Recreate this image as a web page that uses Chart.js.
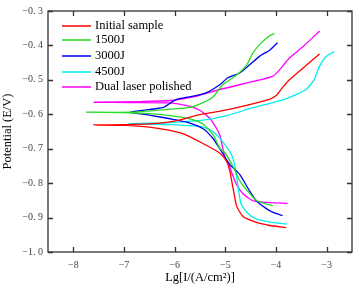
<!DOCTYPE html>
<html>
<head>
<meta charset="utf-8">
<script src="https://cdn.jsdelivr.net/npm/chart.js@4.4.0/dist/chart.umd.min.js"></script>
<style>
  html, body { margin: 0; padding: 0; background: #fff; }
</style>
</head>
<body>
<canvas id="mycanvas" width="355" height="288"></canvas>
<script>
// series names (legend order)
var seriesNames = ['Initial sample', '1500J', '3000J', '4500J', 'Dual laser polished'];

// tick labels
var xTicks = [-8, -7, -6, -5, -4, -3];
var yTicks = [-1.0, -0.9, -0.8, -0.7, -0.6, -0.5, -0.4, -0.3];

// each curve: cathodic end -> corrosion tip -> anodic end
var initialLg = [-3.80, -4.12, -4.385, -4.65, -4.778, -4.845, -4.91, -4.974, -5.106, -5.44, -5.76, -6.09, -6.5, -7.0, -7.60,
                 -7.0, -6.5, -6.09, -5.83, -5.5, -5.1, -4.6, -4.12, -3.99, -3.87, -3.73, -3.47, -3.14];
var initialE  = [-0.929, -0.923, -0.914, -0.897, -0.866, -0.817, -0.766, -0.737, -0.713, -0.685, -0.661, -0.647, -0.637, -0.632, -0.631,
                 -0.630, -0.628, -0.622, -0.614, -0.601, -0.591, -0.575, -0.556, -0.545, -0.522, -0.499, -0.466, -0.425];

var j1500Lg = [-4.06, -4.38, -4.56, -4.71, -4.85, -5.01, -5.106, -5.24, -5.44, -5.70, -6.09, -6.5, -7.0, -7.74,
               -6.87, -6.09, -5.70, -5.44, -5.24, -5.05, -4.78, -4.58, -4.46, -4.32, -4.12, -4.03];
var j1500E  = [-0.866, -0.851, -0.823, -0.794, -0.751, -0.711, -0.699, -0.660, -0.628, -0.613, -0.604, -0.598, -0.595, -0.594,
               -0.594, -0.585, -0.580, -0.566, -0.549, -0.514, -0.486, -0.457, -0.423, -0.397, -0.371, -0.366];

var j3000Lg = [-3.87, -4.06, -4.19, -4.39, -4.52, -4.72, -4.91, -5.07, -5.24, -5.44, -5.76, -6.09, -6.48, -6.87,
               -6.22, -6.02, -5.89, -5.56, -5.37, -5.11, -4.95, -4.72, -4.52, -4.32, -4.12, -3.97];
var j3000E  = [-0.894, -0.885, -0.874, -0.851, -0.823, -0.774, -0.746, -0.709, -0.671, -0.642, -0.623, -0.613, -0.603, -0.594,
               -0.580, -0.561, -0.554, -0.545, -0.537, -0.514, -0.494, -0.480, -0.456, -0.431, -0.413, -0.392];

var j4500Lg = [-3.79, -4.12, -4.40, -4.57, -4.69, -4.75, -4.81, -4.89, -5.05, -5.24, -5.44, -6.09, -6.48, -6.91,
               -6.48, -6.09, -5.44, -4.97, -4.46, -3.93, -3.67, -3.40, -3.25, -3.14, -3.01, -2.85];
var j4500E  = [-0.919, -0.913, -0.903, -0.886, -0.860, -0.809, -0.751, -0.714, -0.680, -0.651, -0.637, -0.630, -0.629, -0.627,
               -0.626, -0.624, -0.617, -0.604, -0.581, -0.561, -0.547, -0.527, -0.500, -0.460, -0.432, -0.418];

var dualLg = [-3.77, -4.19, -4.46, -4.65, -4.78, -4.87, -4.93, -5.01, -5.05, -5.11, -5.17, -5.30, -5.50, -5.76, -6.09, -6.87, -7.59,
              -6.68, -6.09, -5.56, -5.11, -4.32, -4.06, -3.93, -3.73, -3.47, -3.14];
var dualE  = [-0.859, -0.856, -0.851, -0.831, -0.804, -0.771, -0.746, -0.723, -0.699, -0.660, -0.642, -0.613, -0.589, -0.575, -0.567, -0.566, -0.565,
              -0.563, -0.560, -0.547, -0.528, -0.500, -0.489, -0.471, -0.436, -0.404, -0.358];

var lineColors = ['#ff0000', '#22dd22', '#0000ee', '#00eeee', '#ff00ff'];

function toPoints(lg, e) {
    var pts = [];
    for (var i in lg) {
        pts.push({x: lg[i], y: e[i]});
    }
    return pts;
}

var curves = [
    toPoints(initialLg, initialE),
    toPoints(j1500Lg, j1500E),
    toPoints(j3000Lg, j3000E),
    toPoints(j4500Lg, j4500E),
    toPoints(dualLg, dualE)
];

var datasets = [];
for (var k = 0; k < curves.length; k++) {
    datasets.push({
        label: seriesNames[k],
        data: curves[k],
        borderColor: lineColors[k],
        backgroundColor: lineColors[k],
        borderWidth: 1.3,
        pointRadius: 0,
        showLine: true,
        tension: 0.2,
        fill: false
    });
}

function minus(v) {
    return v < 0 ? '\u2212' + Math.abs(v) : String(v);
}

// box around the plot, with inward ticks on all four sides
var frame = {
    id: 'frame',
    afterDraw: function(chart) {
        var c = chart.ctx, a = chart.chartArea;
        var sx = chart.scales.x, sy = chart.scales.y;
        c.save();
        c.strokeStyle = '#333';
        c.lineWidth = 1.3;
        c.strokeRect(a.left, a.top, a.right - a.left, a.bottom - a.top);
        c.beginPath();
        xTicks.forEach(function(v) {
            var px = Math.round(sx.getPixelForValue(v)) + 0.5;
            c.moveTo(px, a.bottom); c.lineTo(px, a.bottom - 5);
            c.moveTo(px, a.top); c.lineTo(px, a.top + 5);
        });
        yTicks.forEach(function(v) {
            var py = Math.round(sy.getPixelForValue(v)) + 0.5;
            c.moveTo(a.left, py); c.lineTo(a.left + 5, py);
            c.moveTo(a.right, py); c.lineTo(a.right - 5, py);
        });
        c.stroke();
        c.restore();
    }
};

// legend inside the plot, top left
var legendBox = {
    id: 'legendBox',
    afterDraw: function(chart) {
        var c = chart.ctx, a = chart.chartArea;
        var rows = [15, 29, 45, 61, 76];
        c.save();
        c.font = '12.5px "Liberation Serif"';
        c.textBaseline = 'middle';
        c.fillStyle = '#000';
        chart.data.datasets.forEach(function(ds, i) {
            var y = a.top + rows[i];
            c.strokeStyle = ds.borderColor;
            c.lineWidth = 1.5;
            c.beginPath();
            c.moveTo(a.left + 14, y);
            c.lineTo(a.left + 43, y);
            c.stroke();
            c.fillText(ds.label, a.left + 47, y);
        });
        c.restore();
    }
};

Chart.defaults.font.family = '"Liberation Serif"';

var ctx = document.getElementById('mycanvas');
var myChart = new Chart(ctx, {
    type: 'scatter',
    data: { datasets: datasets },
    options: {
        responsive: false,
        animation: false,
        layout: { padding: { top: 7, right: 3, left: 0, bottom: 0 } },
        plugins: {
            legend: { display: false },
            tooltip: { enabled: false }
        },
        scales: {
            x: {
                type: 'linear',
                min: -8.5,
                max: -2.5,
                grid: { display: false, drawTicks: false },
                border: { display: false },
                afterBuildTicks: function(axis) {
                    axis.ticks = xTicks.map(function(v) { return {value: v}; });
                },
                afterFit: function(axis) { axis.height = 36; },
                ticks: {
                    color: '#444',
                    font: { size: 10 },
                    padding: 7,
                    maxRotation: 0,
                    callback: function(v) { return minus(v); }
                },
                title: {
                    display: true,
                    text: 'Lg[I/(A/cm\u00b2)]',
                    color: '#000',
                    font: { size: 12.5 },
                    padding: { top: 0, bottom: 3 }
                }
            },
            y: {
                type: 'linear',
                min: -1.0,
                max: -0.3,
                grid: { display: false, drawTicks: false },
                border: { display: false },
                afterBuildTicks: function(axis) {
                    axis.ticks = yTicks.map(function(v) { return {value: v}; });
                },
                afterFit: function(axis) { axis.width = 48; },
                ticks: {
                    color: '#444',
                    font: { size: 10 },
                    padding: 5,
                    callback: function(v) {
                        return '\u2212' + Math.abs(v).toFixed(1).replace('.', '. ');
                    }
                },
                title: {
                    display: true,
                    text: 'Potential (E/V)',
                    color: '#000',
                    font: { size: 12.5 },
                    padding: { top: 0, bottom: 0 }
                }
            }
        }
    },
    plugins: [frame, legendBox]
});
</script>
</body>
</html>
